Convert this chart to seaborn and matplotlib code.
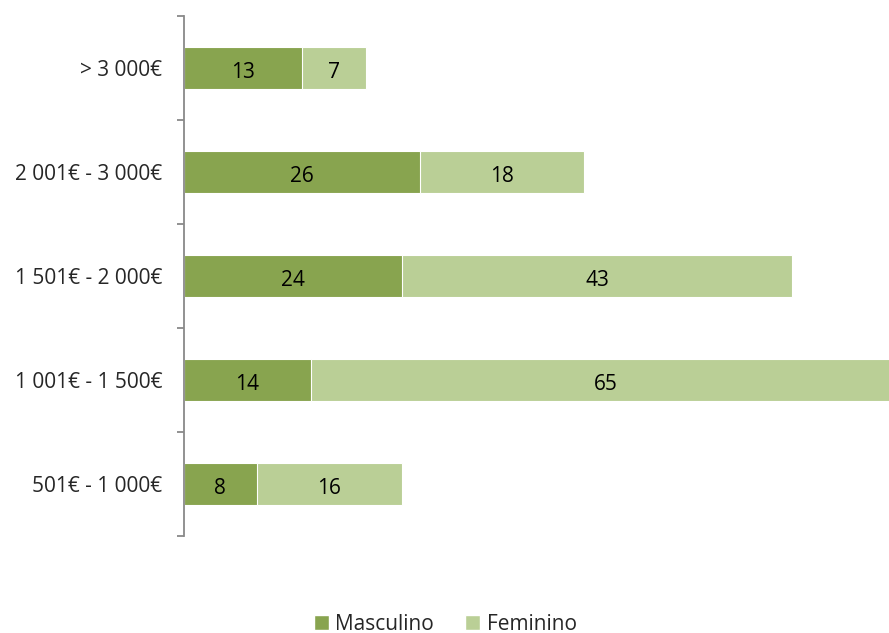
import matplotlib
matplotlib.use("Agg")
import matplotlib.pyplot as plt
import seaborn as sns
import pandas as pd
from matplotlib.ticker import FixedLocator
from matplotlib.patches import Patch

# Salary brackets, top to bottom
categories = ["> 3 000€", "2 001€ - 3 000€", "1 501€ - 2 000€", "1 001€ - 1 500€", "501€ - 1 000€"]
masculino = [13, 26, 24, 14, 8]
feminino = [7, 18, 43, 65, 16]

c_masc = "#88A44F"
c_fem = "#BACF96"

sns.set_style("white")
plt.rcParams["font.family"] = ["Open Sans", "DejaVu Sans"]

df = pd.DataFrame({"faixa": categories, "Masculino": masculino, "Feminino": feminino})
df["total"] = df["Masculino"] + df["Feminino"]

fig = plt.figure(figsize=(8.89, 6.33), dpi=100)
ax = fig.add_axes([184 / 889, 97 / 633, 726.4 / 889, 520 / 633])

# Stacked bars: total in light green, male share drawn over it
sns.barplot(data=df, y="faixa", x="total", order=categories, color=c_fem,
            width=0.4, orient="h", ax=ax, edgecolor="white", linewidth=0.8, saturation=1)
sns.barplot(data=df, y="faixa", x="Masculino", order=categories, color=c_masc,
            width=0.4, orient="h", ax=ax, edgecolor="white", linewidth=0.8, saturation=1)

for i, (m, f) in enumerate(zip(masculino, feminino)):
    ax.text(m / 2, i + 0.02, str(m), ha="center", va="center_baseline", fontsize=15, color="black")
    ax.text(m + f / 2, i + 0.02, str(f), ha="center", va="center_baseline", fontsize=15, color="black")

ax.set_xlim(0, 80)
ax.set_ylim(len(categories) - 0.5, -0.5)
ax.set_xlabel("")
ax.set_ylabel("")
ax.set_xticks([])

for s in ["top", "right", "bottom"]:
    ax.spines[s].set_visible(False)
ax.spines["left"].set_color("#898989")
ax.spines["left"].set_linewidth(1.3)

ax.yaxis.set_minor_locator(FixedLocator([i - 0.5 for i in range(len(categories) + 1)]))
ax.tick_params(axis="y", which="major", length=0, pad=15.5, labelsize=15)
ax.tick_params(axis="y", which="minor", length=5, width=1.3, color="#898989", left=True)

handles = [Patch(facecolor=c_masc, label="Masculino"), Patch(facecolor=c_fem, label="Feminino")]
fig.legend(handles=handles, loc="center", bbox_to_anchor=(0.501, 0.014), ncol=2, frameon=False,
           fontsize=15, handlelength=0.72, handleheight=0.72, handletextpad=0.3, columnspacing=1.5)

fig.savefig("out.png", dpi=100)
